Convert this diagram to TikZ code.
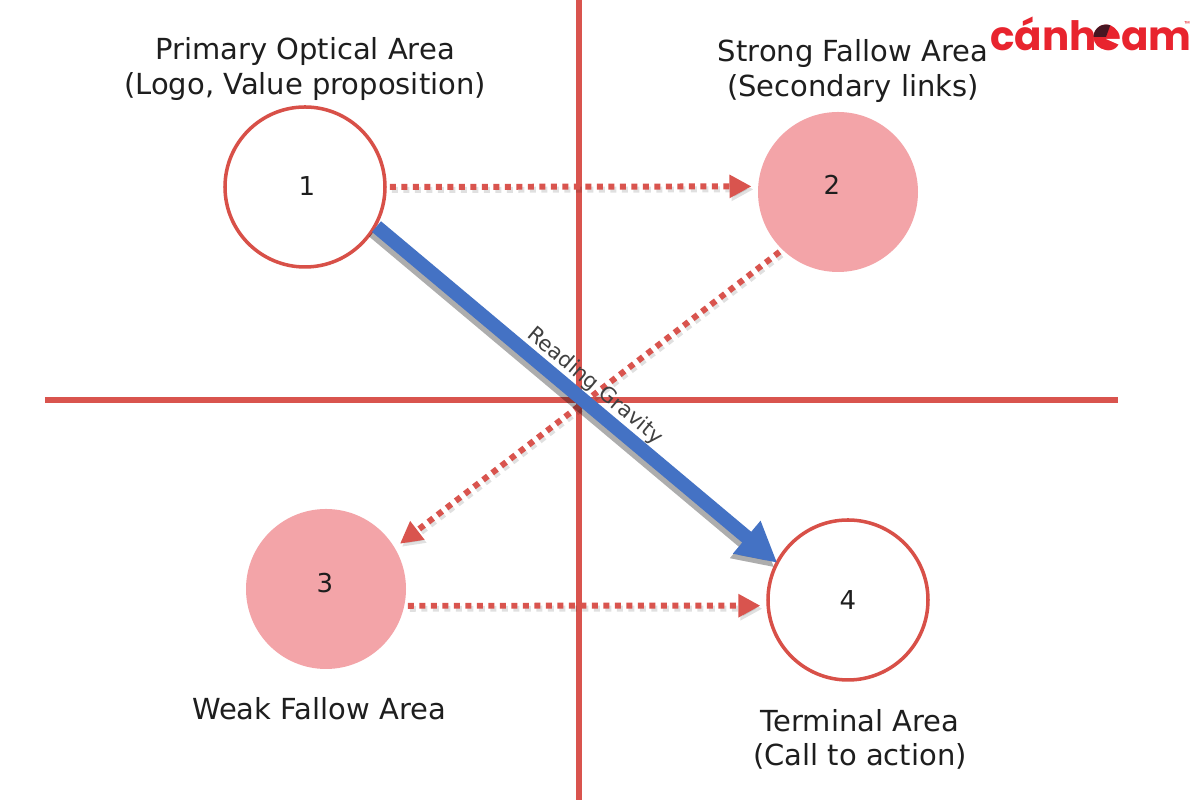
\documentclass[tikz,border=0pt]{standalone}
\usepackage{fontspec}
\setmainfont{DejaVu Sans}
\newfontfamily\logofont{Poppins}
\usepackage{xcolor}
\usetikzlibrary{arrows.meta,positioning,calc}
\definecolor{axisred}{RGB}{217,84,78}
\definecolor{ringred}{RGB}{216,80,72}
\definecolor{softpink}{RGB}{243,164,168}
\definecolor{gravity}{RGB}{68,114,196}
\definecolor{logored}{RGB}{232,36,46}
\definecolor{logodark}{RGB}{70,22,34}
\definecolor{inktext}{RGB}{30,30,30}

\begin{document}
\begin{tikzpicture}[
  area/.style={circle, minimum size=1.6cm, inner sep=0pt, font=\fontsize{7.4}{8}\selectfont, text=inktext},
  openarea/.style={area, draw=ringred, line width=1pt, fill=white},
  softarea/.style={area, fill=softpink},
  caption/.style={align=center, font=\fontsize{8.25}{9.7}\selectfont, text=inktext},
  axisline/.style={draw=axisred, line width=1.9pt},
  fallow/.style={draw=axisred, line width=1.7pt, dash pattern=on 0.6mm off 0.55mm,
    -{Triangle[length=2.2mm,width=2.2mm]}, shorten >=0.6mm, shorten <=0.3mm},
  fallowshadow/.style={fallow, draw=black, opacity=0.12, transform canvas={xshift=0.2mm,yshift=-0.3mm}},
  reading/.style={draw=gravity, line width=1.4mm, -{Triangle[length=4mm,width=4mm]}, shorten >=-0.2mm},
  readingshadow/.style={reading, draw=black, opacity=0.32, transform canvas={xshift=-0.3mm,yshift=-0.45mm}}
]
\useasboundingbox (0,0) rectangle (12,8);
\fill[white] (0,0) rectangle (12,8);
\coordinate (top) at (5.79,8);
\coordinate (bottom) at (5.79,0);
\coordinate (left) at (0.45,4);
\coordinate (right) at (11.18,4);
\draw[axisline] (top) -- (bottom);
\draw[axisline] (left) -- (right);
\node[openarea] (one) at (3.05,6.13) {};
\node[softarea] (two) at (8.38,6.08) {};
\node[softarea] (three) at (3.26,2.11) {};
\node[openarea] (four) at (8.48,2.00) {4};
\node[area] (onetext) at (3.07,6.14) {1};
\node[area] (twotext) at (8.32,6.15) {2};
\node[area] (threetext) at (3.25,2.17) {3};
\draw[fallowshadow] (one.0) -- (two.176);
\draw[fallowshadow] (two.226) -- (three.31);
\draw[fallowshadow] (three.-12) -- (four.184);
\draw[fallow] (one.0) -- (two.176);
\draw[fallow] (two.226) -- (three.31);
\draw[fallow] (three.-12) -- (four.184);
\draw[readingshadow] (one.-29) -- (four.152);
\draw[reading] (one.-29) -- (four.152)
  node[sloped, pos=0.518, above=-0.1mm, inner sep=0.2mm, font=\fontsize{6}{7}\selectfont, text=black!75] (gravitytext) {Reading Gravity};
\node[caption] (primary) at (3.05,7.31) {Primary Optical Area\\(Logo, Value proposition)};
\node[caption] (strong) at (8.53,7.29) {Strong Fallow Area\\(Secondary links)};
\node[caption] (weak) at (3.19,0.91) {Weak Fallow Area};
\node[caption] (terminal) at (8.6,0.61) {Terminal Area\\(Call to action)};
\node[inner sep=0pt, text=logored, font=\logofont\bfseries\fontsize{11.5}{12}\selectfont] (logo) at (10.91,7.66) {cánheam};
\fill[logored] (11.06,7.63) circle (0.125);
\fill[white] (11.06,7.61) -- (11.22,7.61) -- (11.22,7.54) -- cycle;
\fill[logodark] (11.06,7.63) -- (10.935,7.63) arc (180:70:0.125) -- cycle;
\node[inner sep=0pt, text=logored, font=\logofont\fontsize{2}{2}\selectfont] (trademark) at (11.87,7.76) {™};
\end{tikzpicture}
\end{document}
